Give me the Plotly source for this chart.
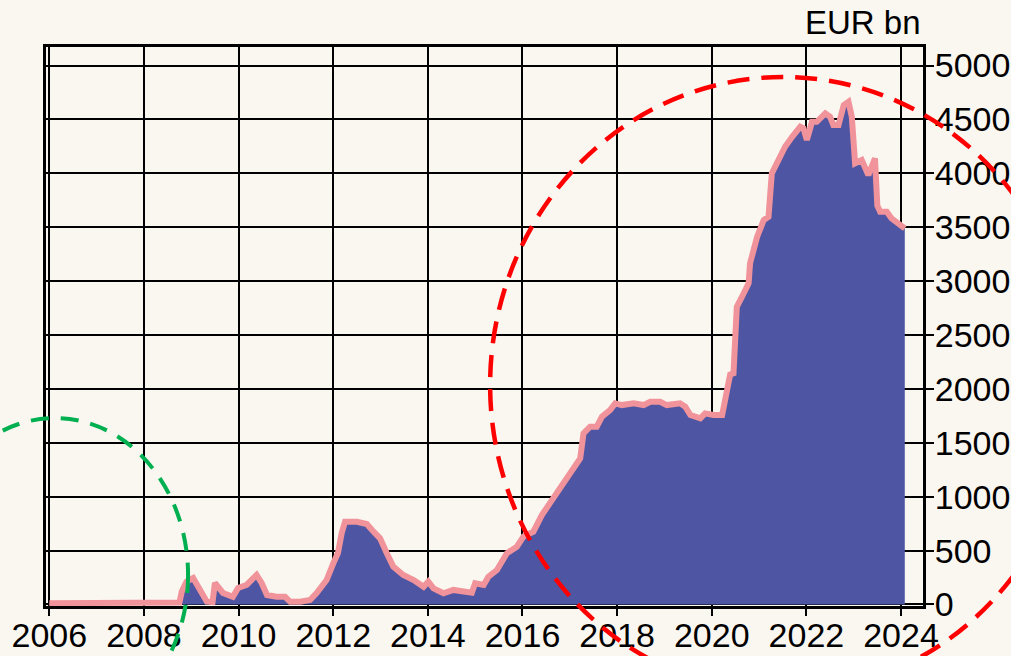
import plotly.graph_objects as go

# Data (decimal years, EUR bn)
years = [2006.0, 2006.5, 2007.0, 2007.5, 2008.0, 2008.5, 2008.75, 2008.8, 2008.9, 2009.04,
         2009.19, 2009.33, 2009.45, 2009.5, 2009.67, 2009.88, 2009.99, 2010.17, 2010.38, 2010.49,
         2010.6, 2010.8, 2010.98, 2011.09, 2011.3, 2011.51, 2011.65, 2011.86, 2012.0, 2012.1,
         2012.18, 2012.25, 2012.5, 2012.71, 2012.82, 2012.99, 2013.13, 2013.27, 2013.48, 2013.7,
         2013.91, 2014.01, 2014.12, 2014.33, 2014.54, 2014.75, 2014.93, 2015.0, 2015.18, 2015.28,
         2015.46, 2015.67, 2015.88, 2016.02, 2016.23, 2016.41, 2016.66, 2016.94, 2017.22, 2017.29,
         2017.43, 2017.57, 2017.68, 2017.85, 2017.96, 2018.1, 2018.35, 2018.56, 2018.7, 2018.91,
         2019.05, 2019.33, 2019.44, 2019.55, 2019.76, 2019.86, 2020.04, 2020.22, 2020.32, 2020.39,
         2020.46, 2020.53, 2020.64, 2020.78, 2020.81, 2020.96, 2021.1, 2021.2, 2021.27, 2021.41,
         2021.55, 2021.7, 2021.87, 2021.94, 2022.01, 2022.12, 2022.22, 2022.4, 2022.5, 2022.57,
         2022.68, 2022.79, 2022.89, 2022.96, 2023.03, 2023.17, 2023.31, 2023.45, 2023.5, 2023.56,
         2023.7, 2023.8, 2023.91, 2024.02, 2024.08]
excess_liquidity = [12, 14, 12, 15, 14, 16, 18, 120, 212, 245,
                    119, 26, 22, 200, 107, 72, 153, 181, 274, 197,
                    88, 72, 72, 26, 26, 42, 107, 227, 380, 477,
                    663, 768, 768, 747, 691, 614, 478, 351, 274, 227,
                    165, 212, 150, 104, 135, 119, 110, 197, 181, 258,
                    320, 475, 536, 629, 675, 830, 1000, 1185, 1356, 1588,
                    1649, 1649, 1742, 1804, 1866, 1850, 1866, 1850, 1881, 1881,
                    1850, 1866, 1835, 1758, 1727, 1773, 1758, 1758, 1959, 2134,
                    2145, 2762, 2855, 2980, 3165, 3412, 3567, 3597, 4000, 4139,
                    4247, 4339, 4432, 4417, 4309, 4478, 4478, 4556, 4525, 4448,
                    4448, 4633, 4664, 4525, 4093, 4123, 3984, 4139, 3700, 3644,
                    3644, 3582, 3551, 3505, 3490]

x_ticks = [2006, 2008, 2010, 2012, 2014, 2016, 2018, 2020, 2022, 2024]
y_ticks = [0, 500, 1000, 1500, 2000, 2500, 3000, 3500, 4000, 4500, 5000]
unit_label = "EUR bn"

BG = "#FAF6F0"
FILL = "#4E56A3"
LINE = "#F0939A"
FONT = "Liberation Sans, Arial, sans-serif"
FS = 34

fig = go.Figure()
fig.add_trace(go.Scatter(
    x=years, y=excess_liquidity, mode="lines",
    fill="tozeroy", fillcolor=FILL,
    line=dict(color=LINE, width=6),
    hoverinfo="x+y", showlegend=False,
))

fig.update_layout(
    width=1011, height=656,
    margin=dict(l=46, r=88, t=47, b=50, autoexpand=False),
    paper_bgcolor=BG, plot_bgcolor=BG,
    font=dict(family=FONT, size=FS, color="black"),
    xaxis=dict(
        range=[2005.93, 2024.465], tickmode="array", tickvals=x_ticks,
        ticktext=[str(t) for t in x_ticks], automargin=False,
        showgrid=True, gridcolor="black", gridwidth=2,
        showline=True, linecolor="black", linewidth=3, mirror=True,
        ticks="outside", ticklen=7, tickwidth=2, tickcolor="black",
        ticklabelstandoff=-10,
        zeroline=False, tickfont=dict(size=FS),
    ),
    yaxis=dict(
        side="right", range=[-14, 5172], tickmode="array", tickvals=y_ticks,
        ticktext=[str(t) for t in y_ticks], automargin=False,
        showgrid=True, gridcolor="black", gridwidth=2,
        showline=True, linecolor="black", linewidth=3, mirror=True,
        ticks="outside", ticklen=8, tickwidth=2, tickcolor="black",
        ticklabelstandoff=-6,
        zeroline=False, tickfont=dict(size=FS),
    ),
    annotations=[dict(
        text=unit_label, xref="paper", yref="paper", x=1.0, y=1.043,
        xanchor="right", yanchor="middle", showarrow=False,
        font=dict(size=FS - 1, color="black", family=FONT),
    )],
    shapes=[
        dict(type="circle", xref="paper", yref="paper",
             x0=0.5064, x1=1.1749, y0=-0.1556, y1=0.9463,
             line=dict(color="#FF0000", width=4.5, dash="22px,12px"), layer="above"),
        dict(type="circle", xref="paper", yref="paper",
             x0=-0.1414, x1=0.162, y0=-0.2254, y1=0.3363,
             line=dict(color="#00B050", width=4, dash="18px,12px"), layer="above"),
    ],
)

fig.write_html(
    "out.html",
    config={"displayModeBar": False},
    post_script="document.body.style.margin='0';document.body.style.background='" + BG + "';",
)
